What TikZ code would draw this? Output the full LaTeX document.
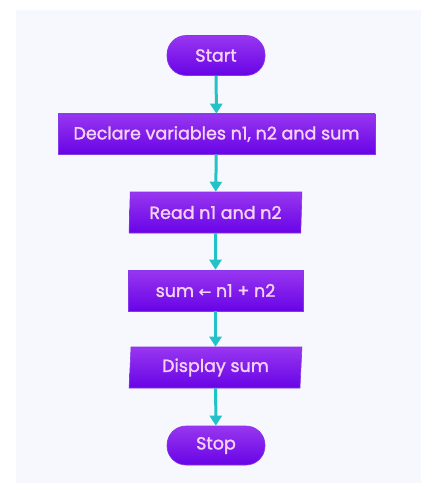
\documentclass[tikz,border=0pt]{standalone}
\usepackage{fontspec}
\setmainfont{Poppins}
\newfontfamily\mfont[FakeBold=1.6]{Poppins}
\newfontfamily\symfont[FakeBold=1.6]{DejaVu Sans}
\usetikzlibrary{shapes.geometric,arrows.meta}
\definecolor{bg}{HTML}{F7F8FD}
\definecolor{ptop}{HTML}{9836F0}
\definecolor{pbot}{HTML}{6804E6}
\definecolor{tealc}{HTML}{22C3C8}
\definecolor{txt}{HTML}{F4D2F6}
\tikzset{
  base/.style={top color=ptop, bottom color=pbot, draw=pbot!80!white, line width=0.6pt,
    text=txt, font=\mfont\fontsize{17.5}{19}\selectfont, inner sep=0pt},
  term/.style={base, rectangle, rounded corners=19pt, minimum width=98pt, minimum height=40pt},
  proc/.style={base, rectangle, minimum height=40pt},
  io/.style={base, trapezium, trapezium left angle=86, trapezium right angle=94,
    trapezium stretches=true, minimum height=41pt, minimum width=173pt},
  flow/.style={tealc, line width=3pt, -{Triangle[length=10pt,width=12pt]}, shorten >=0pt}
}
\begin{document}
\begin{tikzpicture}[x=1pt,y=-1pt]
\useasboundingbox (0,0) rectangle (425,484);
\fill[bg] (16,10) rectangle (421,483);
\node[term] (start) at (216,55.5) {Start};
\node[proc, minimum width=317pt] (decl) at (216.5,134) {Declare variables n1, n2 and sum};
\node[io] (read) at (215.5,212.5) {Read n1 and n2};
\node[proc, minimum width=175pt, minimum height=41pt] (sum) at (215.5,290.5) {sum {\symfont\fontsize{15}{17}\selectfont ←} n1 + n2};
\node[io] (disp) at (215.5,367.5) {Display sum};
\node[term, minimum height=39pt] (stop) at (216,445.5) {Stop};
\draw[flow] (start) -- (decl);
\draw[flow] (decl) -- (read);
\draw[flow] (read) -- (sum);
\draw[flow] (sum) -- (disp);
\draw[flow] (disp) -- (stop);
\end{tikzpicture}
\end{document}
